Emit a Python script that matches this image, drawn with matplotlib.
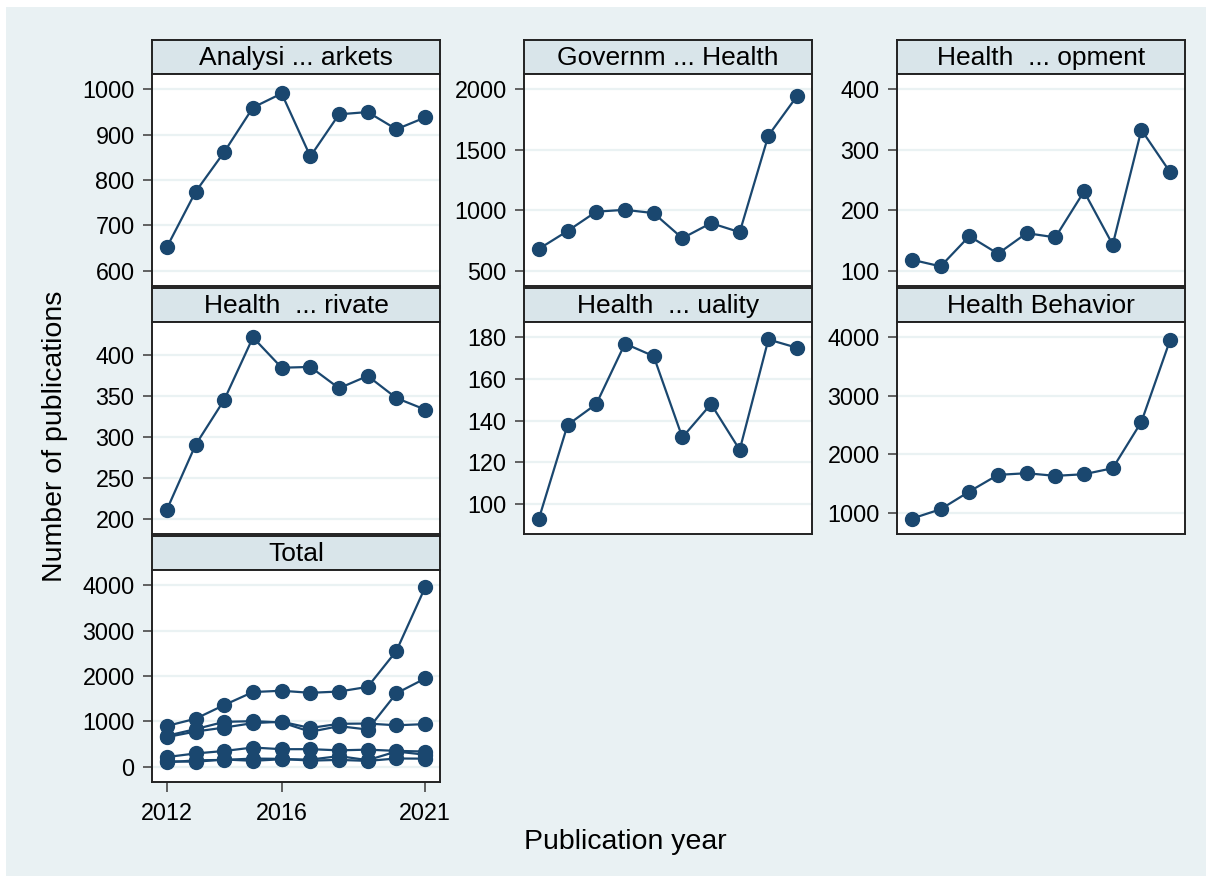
import matplotlib
matplotlib.use("Agg")
import matplotlib.pyplot as plt
from matplotlib.patches import Rectangle

plt.rcParams['font.family'] = ['Liberation Sans', 'DejaVu Sans']

# Publication counts by topic, 2012-2021
years = [2012, 2013, 2014, 2015, 2016, 2017, 2018, 2019, 2020, 2021]
analysis_markets = [652, 774, 862, 960, 991, 852, 945, 950, 912, 938]
government_health = [680, 828, 988, 1003, 976, 768, 893, 818, 1618, 1945]
health_development = [118, 107, 157, 128, 162, 155, 231, 143, 333, 263]
health_private = [211, 290, 345, 421, 384, 385, 359, 374, 347, 333]
health_quality = [93, 138, 148, 177, 171, 132, 148, 126, 179, 175]
health_behavior = [897, 1057, 1360, 1646, 1674, 1629, 1657, 1760, 2554, 3954]

titles = ["Analysi ... arkets", "Governm ... Health", "Health  ... opment",
          "Health  ... rivate", "Health  ... uality", "Health Behavior", "Total"]
series = [analysis_markets, government_health, health_development,
          health_private, health_quality, health_behavior]
yticks = [[600, 700, 800, 900, 1000],
          [500, 1000, 1500, 2000],
          [100, 200, 300, 400],
          [200, 250, 300, 350, 400],
          [100, 120, 140, 160, 180],
          [1000, 2000, 3000, 4000],
          [0, 1000, 2000, 3000, 4000]]
xticks_total = [2012, 2016, 2021]

navy = '#1a476f'
bg = '#e9f1f3'
strip_col = '#d9e5ea'
grid_col = '#eaf2f3'

W, H = 1212, 883
fig = plt.figure(figsize=(W / 100, H / 100), dpi=100, facecolor='white')

# light graph region inside a thin white frame
fig.patches.append(Rectangle((6 / W, 1 - 876 / H), 1200 / W, 869 / H,
                             transform=fig.transFigure, facecolor=bg,
                             edgecolor='none', zorder=-10))


def px_axes(x, y, w, h):
    # pixel box (from top-left) -> figure fraction
    return fig.add_axes([x / W, 1 - (y + h) / H, w / W, h / H])


col_left = [152, 524, 897]
row_top = [40, 288, 536]
strip_h = 34
plot_h = 212
panel_w = 288

for i, title in enumerate(titles):
    r, c = divmod(i, 3)
    x0 = col_left[c]
    y0 = row_top[r]

    # strip header
    sax = px_axes(x0, y0, panel_w, strip_h)
    sax.set_facecolor(strip_col)
    sax.set_xticks([])
    sax.set_yticks([])
    for sp in sax.spines.values():
        sp.set_color('#222222')
        sp.set_linewidth(1.4)
    sax.text(0.5, 0.48, title, ha='center', va='center', fontsize=19,
             transform=sax.transAxes)

    ax = px_axes(x0, y0 + strip_h, panel_w, plot_h)
    ax.set_facecolor('white')
    if i < 6:
        data_list = [series[i]]
    else:
        data_list = series
    for ys in data_list:
        ax.plot(years, ys, color=navy, lw=1.6, marker='o', ms=10,
                markeredgecolor=navy, zorder=3)

    ticks = yticks[i]
    lo = min(ticks[0], min(min(s) for s in data_list))
    hi = max(ticks[-1], max(max(s) for s in data_list))
    pad = (hi - lo) * 0.085
    ax.set_ylim(lo - pad, hi + pad)
    ax.set_yticks(ticks)
    ax.set_yticklabels([str(t) for t in ticks])
    ax.set_xlim(2011.48, 2021.52)
    ax.grid(axis='y', color=grid_col, lw=1.6, zorder=0)
    ax.tick_params(axis='y', length=6.5, width=1.3, color='#555555',
                   labelsize=16.8, pad=6)
    if i == 6:
        ax.set_xticks(xticks_total)
        ax.tick_params(axis='x', length=7.5, width=1.3, color='#555555',
                       labelsize=16.8, pad=7)
    else:
        ax.set_xticks([])
    for sp in ax.spines.values():
        sp.set_color('#222222')
        sp.set_linewidth(1.4)

fig.text(55 / W, 1 - 436 / H, "Number of publications", rotation=90,
         ha='center', va='center', fontsize=20.5)
fig.text(625 / W, 1 - 842 / H, "Publication year", ha='center', va='center',
         fontsize=20.5)

fig.savefig("out.png", dpi=100, facecolor='white')
